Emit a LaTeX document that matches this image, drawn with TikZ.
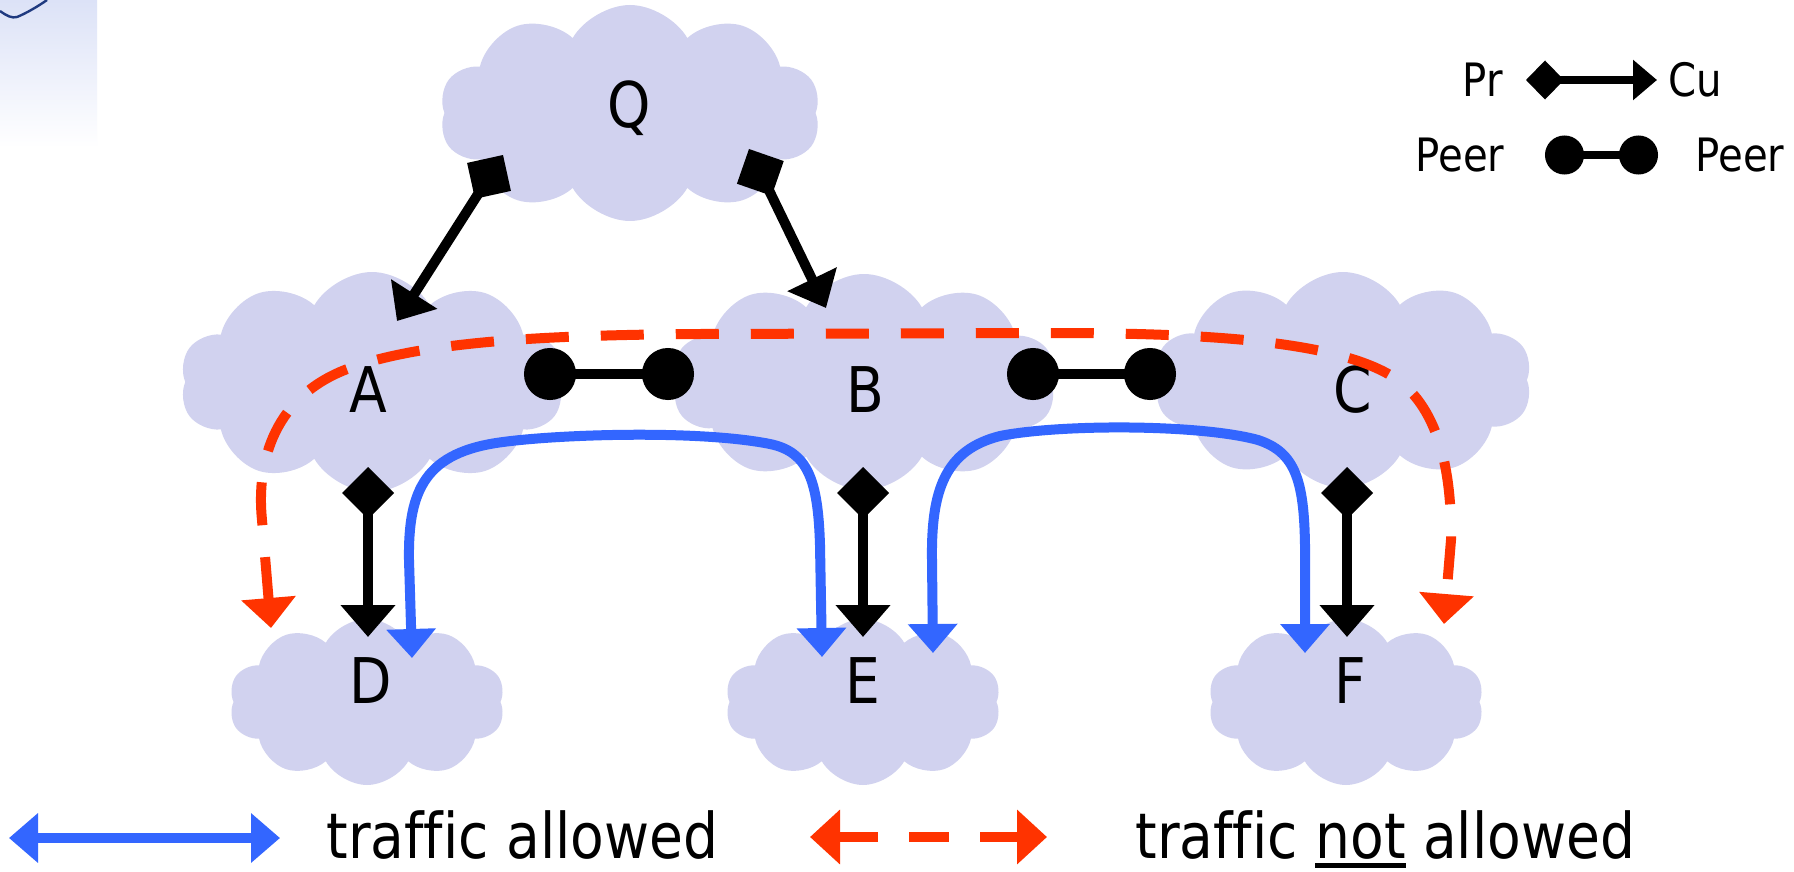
\documentclass[tikz,border=0pt]{standalone}
\usepackage{fontspec}
\setmainfont{DejaVu Sans}
\newfontfamily\narrowsans{DejaVu Sans}[FakeStretch=0.875, Ligatures=NoCommon]
\usetikzlibrary{shapes.symbols, arrows.meta, calc}

\definecolor{cloudfill}{RGB}{209,210,239}
\definecolor{okblue}{RGB}{51,102,255}
\definecolor{nored}{RGB}{255,51,0}
\definecolor{navyline}{RGB}{31,58,128}
\definecolor{fadeblue}{RGB}{220,226,247}

% underline drawn as a thick rule just under a word
\newcommand\ulword[1]{\setbox0\hbox{#1}\rlap{\rule[-5pt]{\wd0}{2.5pt}}\box0\relax}

\begin{document}
\begin{tikzpicture}[x=0.5pt, y=-0.5pt,
  cloudnode/.style={cloud, cloud puffs=10, cloud puff arc=120, cloud ignores aspect,
    fill=cloudfill, draw=none, inner sep=0pt},
  cloudbig/.style={cloudnode, minimum width=189pt, minimum height=108pt},
  cloudsmall/.style={cloudnode, minimum width=138pt, minimum height=83pt},
  asname/.style={inner sep=0pt, anchor=base, font=\narrowsans\fontsize{31.5pt}{36pt}\selectfont},
  legtext/.style={inner sep=0pt, font=\narrowsans\fontsize{23pt}{27pt}\selectfont},
  pc/.style={line width=5pt, {Diamond[length=26pt,width=26pt]}-{Triangle[length=16pt,width=26.5pt]}},
  peer/.style={line width=5pt, {Circle[length=26pt]}-{Circle[length=26pt]}},
  pcleg/.style={line width=4pt, {Diamond[length=19pt,width=19.5pt]}-{Triangle[length=12pt,width=19.5pt]}},
  peerleg/.style={line width=4pt, {Circle[length=19.5pt]}-{Circle[length=19.5pt]}},
  allowed/.style={line width=5pt, okblue, {Triangle[length=14.5pt,width=24pt]}-{Triangle[length=14.5pt,width=24pt]}},
  notallowed/.style={line width=5pt, nored, dash pattern=on 21.5pt off 16pt,
    {Triangle[length=15pt,width=26.5pt]}-{Triangle[length=15pt,width=26.5pt]}},
]
\fill[white] (0,0) rectangle (1794,872);
\useasboundingbox (0,0) rectangle (1794,872);

% faded corner panel
\shade[top color=fadeblue, bottom color=white] (0,0) rectangle (97,148);
\draw[navyline, line width=1.2pt] (0,11) .. controls (7,16) and (12,18.5) .. (17,17)
  .. controls (27,13) and (40,5) .. (47,0);

% autonomous systems
\node[cloudbig, minimum width=190.5pt] (Q) at (630,113) {};
\node[cloudbig, minimum width=192pt, minimum height=110pt] (A) at (372,382) {};
\node[cloudbig, minimum width=192pt] (B) at (864,382) {};
\node[cloudbig] (C) at (1343,380) {};
\node[cloudsmall] (D) at (367,702) {};
\node[cloudsmall] (E) at (863,702) {};
\node[cloudsmall] (F) at (1346,702) {};

\node[asname] (Q-name) at (629,127) {Q};
\node[asname] (A-name) at (368,412) {A};
\node[asname] (B-name) at (865,412) {B};
\node[asname] (C-name) at (1353,412) {C};
\node[asname] (D-name) at (371,703) {D};
\node[asname] (E-name) at (863,703) {E};
\node[asname] (F-name) at (1350,703) {F};

% traffic not allowed: D -> A -> B -> C -> F
\draw[notallowed] ($(D)+(-96,-74)$) -- (262,520)
  .. controls (256,460) and (275,395) .. (350,368)
  .. controls (425,341) and (550,335) .. (700,334) -- (1050,333)
  .. controls (1200,333) and (1330,340) .. (1390,375)
  .. controls (1438,403) and (1452,470) .. (1451,540) -- ($(F)+(98,-78)$);

% traffic allowed
\draw[allowed] ($(D)+(45,-44)$) -- (409,560)
  .. controls (408,490) and (425,452) .. (503,442)
  .. controls (563,434) and (700,430) .. (770,444)
  .. controls (808,452) and (818,480) .. (820,545) -- ($(E)+(-41,-45)$);
\draw[allowed] ($(E)+(70,-49)$) -- (932,560)
  .. controls (931,490) and (945,450) .. (1000,436)
  .. controls (1060,424) and (1200,424) .. (1258,440)
  .. controls (1295,452) and (1304,480) .. (1305,545) -- ($(F)+(-41,-49)$);

% provider -> customer
\draw[pc] ($(Q)+(-127,42)$) -- ($(A)+(25,-61)$);
\draw[pc] ($(Q)+(119,36)$) -- ($(B)+(-38,-74)$);
\draw[pc] ($(A)+(-4,85)$) -- ($(D)+(1,-65)$);
\draw[pc] ($(B)+(-1,85)$) -- ($(E)+(0,-65)$);
\draw[pc] ($(C)+(4,87)$) -- ($(F)+(1,-65)$);

% peering
\draw[peer] ($(A)+(152,-8)$) -- ($(B)+(-170,-8)$);
\draw[peer] ($(B)+(143,-8)$) -- ($(C)+(-167,-6)$);

% key, top right
\node[legtext] (pr) at (1483,80) {Pr};
\node[legtext] (cu) at (1695,80) {Cu};
\node[legtext] (peer-l) at (1460,155) {Peer};
\node[legtext] (peer-r) at (1740,155) {Peer};
\draw[pcleg] ($(pr)+(43,0)$) -- ($(cu)+(-38,0)$);
\draw[peerleg] ($(peer-l)+(85,0)$) -- ($(peer-r)+(-82,0)$);

% key, bottom
\coordinate (ok-l) at (9,838);
\coordinate (ok-r) at (280,838);
\draw[allowed] (ok-l) -- (ok-r);
\node[asname, anchor=base west] (ok-text) at (326,858) {traffic allowed};
\coordinate (no-l) at (810,837);
\coordinate (no-r) at (1047,837);
\draw[notallowed, dash pattern=on 20pt off 15.5pt] (no-l) -- (no-r);
\node[asname, anchor=base west] (no-text) at (1135,858) {traffic \ulword{not} allowed};
\end{tikzpicture}
\end{document}
